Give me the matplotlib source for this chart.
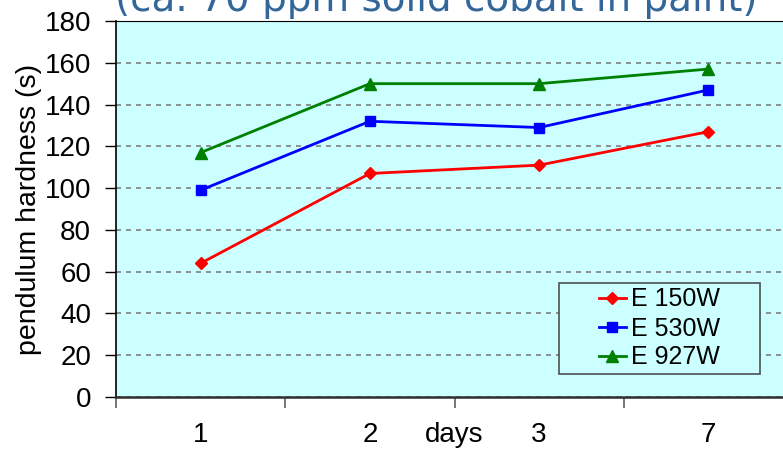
import matplotlib.pyplot as plt
from matplotlib.patches import Rectangle

days = ["1", "2", "3", "7"]
e150w = [64, 107, 111, 127]
e530w = [99, 132, 129, 147]
e927w = [117, 150, 150, 157]

plt.rcParams["font.family"] = ["Liberation Sans", "DejaVu Sans"]

fig = plt.figure(figsize=(7.83, 4.55), dpi=100)
W, H = 783, 455
# plot area runs past the right edge of the figure
ax = fig.add_axes([116 / W, 1 - 397 / H, 677 / W, 376 / H])
ax.set_facecolor("#CCFFFF")

x = list(range(len(days)))
ax.plot(x, e150w, color="#FF0000", lw=2, marker="D", ms=6, label="E 150W")
ax.plot(x, e530w, color="#0000FF", lw=2, marker="s", ms=7, label="E 530W")
ax.plot(x, e927w, color="#008000", lw=2, marker="^", ms=8, label="E 927W")

ax.set_xlim(-0.5, len(days) - 0.5)
ax.set_ylim(0, 180)
ax.set_yticks(range(0, 181, 20))
ax.yaxis.grid(True, linestyle=(0, (3, 3)), color="#808080", lw=1.2)
ax.set_axisbelow(True)

ax.set_xticks(x)
ax.set_xticklabels(days)
ax.set_xticks([i - 0.5 for i in x] + [len(days) - 0.5], minor=True)
ax.tick_params(axis="x", which="major", length=0, pad=18, labelsize=20)
ax.tick_params(axis="x", which="minor", length=8, width=1.2, color="#606060")
ax.tick_params(axis="y", length=8, width=1, direction="out", labelsize=20, pad=10)

ax.text(1.5, -25 / 376, "days", transform=ax.get_xaxis_transform(),
        ha="center", va="top", fontsize=20)
ax.set_ylabel("pendulum hardness (s)", fontsize=20.5)
ax.yaxis.set_label_coords(-0.11, 0.5)

ax.spines["right"].set_visible(False)
ax.spines["top"].set_linewidth(0.8)
ax.spines["left"].set_linewidth(1.2)
ax.spines["bottom"].set_linewidth(1.8)
ax.spines["bottom"].set_color("#303030")

# legend box
bx0, bx1 = (559 - 116) / 677, (760 - 116) / 677
by0, by1 = (397 - 374) / 376, (397 - 283) / 376
ax.add_patch(Rectangle((bx0, by0), bx1 - bx0, by1 - by0, transform=ax.transAxes,
                       facecolor="#CCFFFF", edgecolor="#505050", lw=1.2, zorder=4))
leg = ax.legend(loc="center", bbox_to_anchor=((bx0 + bx1) / 2, (by0 + by1) / 2),
                fontsize=18, frameon=False, handlelength=1.1,
                borderpad=0, labelspacing=0.2, handletextpad=0.2)
leg.set_zorder(5)

fig.text(436 / W, 1 - 11 / H, "(ca. 70 ppm solid cobalt in paint)", ha="center",
         va="baseline", fontsize=28, color="#336699", family="DejaVu Sans")

fig.savefig("out.png", dpi=100)
